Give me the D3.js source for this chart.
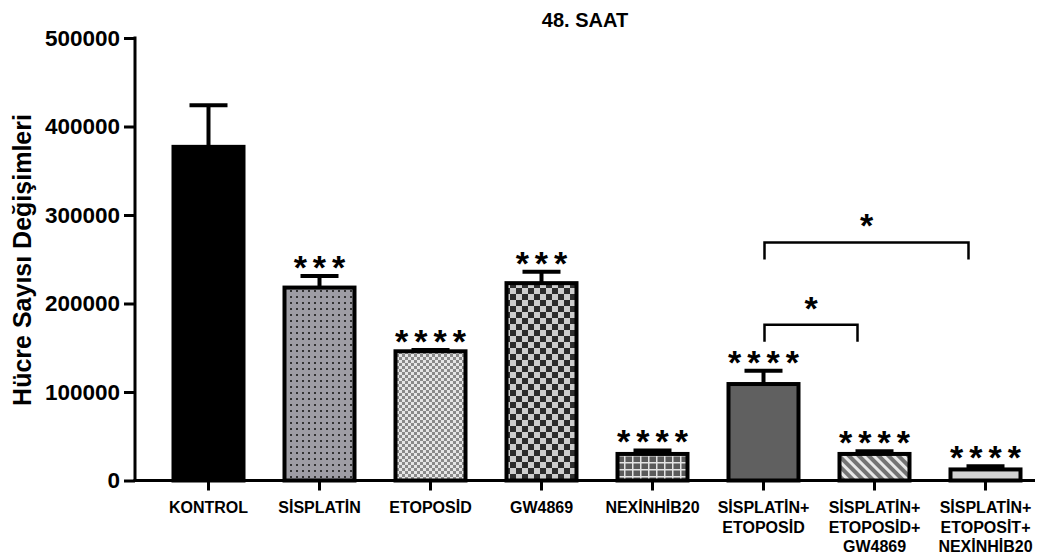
<!DOCTYPE html>
<html>
<head>
<meta charset="utf-8">
<script src="https://cdn.jsdelivr.net/npm/d3@7"></script>
<style>
  body { margin: 0; background: #fff; }
  text { font-family: "Liberation Sans", Arial, sans-serif; font-weight: bold; }
</style>
</head>
<body>
<div id="chart"></div>
<script>
var categories = ["KONTROL", "SİSPLATİN", "ETOPOSİD", "GW4869", "NEXİNHİB20",
        "SİSPLATİN+\nETOPOSİD", "SİSPLATİN+\nETOPOSİD+\nGW4869", "SİSPLATİN+\nETOPOSİT+\nNEXİNHİB20"];
var means = [377000, 218000, 146000, 223000, 30000, 109000, 30000, 12500];
var errors = [47000, 13000, 1500, 13000, 4000, 15000, 3000, 3500];
var stars = ["", "***", "****", "***", "****", "****", "****", "****"];
var yTicks = [0, 100000, 200000, 300000, 400000, 500000];
// pairwise comparisons: [from, to, bracket level, label]
var comparisons = [[5, 6, 176000, "*"], [5, 7, 269000, "*"]];

var fills = ["#000", "url(#dots)", "url(#fineCheck)", "url(#bigCheck)", "url(#grid)",
        "#606060", "url(#stripes)", "#d2d2d2"];

var W = 1062, H = 558;
var svg = d3.select("#chart").append("svg")
        .attr("width", W)
        .attr("height", H);

var x = d3.scaleBand()
        .domain(d3.range(categories.length))
        .range([153, 1041])
        .paddingInner(1 / 3)
        .paddingOuter(1 / 6);

var y = d3.scaleLinear()
        .domain([0, 500000])
        .range([480.5, 38]);

// patterns
var defs = svg.append("defs");

var p = defs.append("pattern").attr("id", "dots")
        .attr("patternUnits", "userSpaceOnUse").attr("width", 6).attr("height", 6);
p.append("rect").attr("width", 6).attr("height", 6).attr("fill", "#9e9da4");
p.append("rect").attr("x", 2).attr("y", 2).attr("width", 2).attr("height", 2).attr("fill", "#333");

p = defs.append("pattern").attr("id", "fineCheck")
        .attr("patternUnits", "userSpaceOnUse").attr("width", 6).attr("height", 6);
p.append("rect").attr("width", 6).attr("height", 6).attr("fill", "#e6e6e6");
p.append("rect").attr("width", 3).attr("height", 3).attr("fill", "#8a8a8a");
p.append("rect").attr("x", 3).attr("y", 3).attr("width", 3).attr("height", 3).attr("fill", "#8a8a8a");

p = defs.append("pattern").attr("id", "bigCheck")
        .attr("patternUnits", "userSpaceOnUse").attr("width", 12).attr("height", 12);
p.append("rect").attr("width", 12).attr("height", 12).attr("fill", "#cfcfcf");
p.append("rect").attr("width", 6).attr("height", 6).attr("fill", "#2e2e2e");
p.append("rect").attr("x", 6).attr("y", 6).attr("width", 6).attr("height", 6).attr("fill", "#2e2e2e");

p = defs.append("pattern").attr("id", "grid")
        .attr("patternUnits", "userSpaceOnUse").attr("width", 8).attr("height", 7);
p.append("rect").attr("width", 8).attr("height", 7).attr("fill", "#5a5a5a");
p.append("path").attr("d", "M0,0.75H8M0.75,0V7").attr("stroke", "#e4e4e4").attr("stroke-width", 1.5);

p = defs.append("pattern").attr("id", "stripes")
        .attr("patternUnits", "userSpaceOnUse").attr("width", 7).attr("height", 7)
        .attr("patternTransform", "rotate(-45)");
p.append("rect").attr("width", 7).attr("height", 7).attr("fill", "#747474");
p.append("rect").attr("width", 3).attr("height", 7).attr("fill", "#e8e8e8");

// title
svg.append("text")
        .attr("x", 585)
        .attr("y", 27)
        .attr("text-anchor", "middle")
        .style("font-size", "20px")
        .text("48. SAAT");

// y axis title
svg.append("text")
        .attr("transform", "translate(31,260) rotate(-90)")
        .attr("text-anchor", "middle")
        .style("font-size", "25px")
        .text("Hücre Sayısı Değişimleri");

// bars
svg.selectAll(".bar")
        .data(means)
        .enter().append("rect")
        .attr("class", "bar")
        .attr("x", function (d, i) { return x(i) + 2; })
        .attr("width", x.bandwidth() - 4)
        .attr("y", function (d) { return y(d); })
        .attr("height", function (d) { return y(0) - y(d); })
        .attr("fill", function (d, i) { return fills[i]; })
        .attr("stroke", "#000")
        .attr("stroke-width", 4);

// error bars (upper only)
var eb = svg.selectAll(".err")
        .data(means)
        .enter().append("g")
        .attr("class", "err");

eb.append("line")
        .attr("x1", function (d, i) { return x(i) + x.bandwidth() / 2; })
        .attr("x2", function (d, i) { return x(i) + x.bandwidth() / 2; })
        .attr("y1", function (d) { return y(d); })
        .attr("y2", function (d, i) { return y(d + errors[i]); })
        .attr("stroke", "#000")
        .attr("stroke-width", 4);

eb.append("line")
        .attr("x1", function (d, i) { return x(i) + x.bandwidth() / 2 - 19; })
        .attr("x2", function (d, i) { return x(i) + x.bandwidth() / 2 + 19; })
        .attr("y1", function (d, i) { return y(d + errors[i]); })
        .attr("y2", function (d, i) { return y(d + errors[i]); })
        .attr("stroke", "#000")
        .attr("stroke-width", 4);

// significance stars
svg.selectAll(".star")
        .data(stars)
        .enter().append("text")
        .attr("class", "star")
        .attr("x", function (d, i) { return x(i) + x.bandwidth() / 2 + 3; })
        .attr("y", function (d, i) { return y(means[i] + errors[i]) + 3; })
        .attr("text-anchor", "middle")
        .style("font-size", "34px")
        .style("letter-spacing", "6px")
        .text(function (d) { return d; });

// comparison brackets
var br = svg.selectAll(".bracket")
        .data(comparisons)
        .enter().append("g")
        .attr("class", "bracket");

br.append("path")
        .attr("d", function (d) {
                var x1 = x(d[0]) + x.bandwidth() / 2 + 1,
                    x2 = x(d[1]) + x.bandwidth() / 2 - 17,
                    yy = y(d[2]);
                return "M" + x1 + "," + (yy + 17) + "V" + yy + "H" + x2 + "V" + (yy + 17);
        })
        .attr("fill", "none")
        .attr("stroke", "#000")
        .attr("stroke-width", 2.5);

br.append("text")
        .attr("x", function (d) {
                return (x(d[0]) + x(d[1]) + x.bandwidth() - 16) / 2;
        })
        .attr("y", function (d) { return y(d[2]) - 5; })
        .attr("text-anchor", "middle")
        .style("font-size", "34px")
        .text(function (d) { return d[3]; });

// y axis
var yAxis = svg.append("g")
        .attr("transform", "translate(135,0)")
        .call(d3.axisLeft(y).tickValues(yTicks).tickSize(11).tickPadding(4).tickFormat(d3.format("d")));
yAxis.select(".domain").remove();
yAxis.selectAll(".tick line").attr("stroke-width", 3);
yAxis.selectAll(".tick text").style("font-size", "22.5px").attr("fill", "#000")
        .attr("font-family", null).attr("font-size", null);
yAxis.append("line")
        .attr("x1", 0).attr("x2", 0)
        .attr("y1", y(500000) - 1.5).attr("y2", y(0) + 1.5)
        .attr("stroke", "#000").attr("stroke-width", 3);

// x axis
var xAxis = svg.append("g")
        .attr("transform", "translate(0," + y(0) + ")")
        .call(d3.axisBottom(x).tickSize(10).tickFormat(""));
xAxis.select(".domain").remove();
xAxis.selectAll(".tick line").attr("stroke-width", 3);
xAxis.append("line")
        .attr("x1", 133.5).attr("x2", 1035)
        .attr("stroke", "#000").attr("stroke-width", 3);

var labels = svg.selectAll(".xlabel")
        .data(categories)
        .enter().append("text")
        .attr("class", "xlabel")
        .attr("text-anchor", "middle")
        .style("font-size", "16px")
        .attr("transform", function (d, i) {
                return "translate(" + (x(i) + x.bandwidth() / 2) + ",513)";
        });

labels.selectAll("tspan")
        .data(function (d) { return d.split("\n"); })
        .enter().append("tspan")
        .attr("x", 0)
        .attr("dy", function (d, i) { return i === 0 ? 0 : 19.5; })
        .text(function (d) { return d; });
</script>
</body>
</html>
